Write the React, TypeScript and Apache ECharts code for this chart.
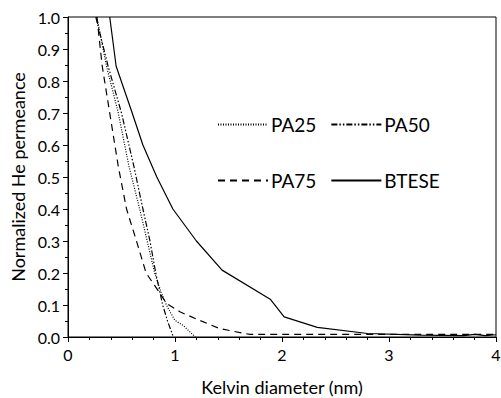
import React, { useEffect, useRef } from "react";
import * as echarts from "echarts";

const pa25X = [0.27, 0.36, 0.47, 0.57, 0.67, 0.74, 0.81, 0.87, 0.92, 0.96, 1.0, 1.08, 1.19];
const pa25Y = [1.0, 0.846, 0.7, 0.533, 0.4, 0.3, 0.2, 0.14, 0.1, 0.075, 0.052, 0.035, 0.0];

const pa50X = [0.26, 0.375, 0.5, 0.616, 0.7, 0.766, 0.82, 0.885, 0.93, 0.985];
const pa50Y = [1.0, 0.846, 0.7, 0.533, 0.4, 0.3, 0.2, 0.1, 0.05, 0.0];

const pa75X = [0.27, 0.32, 0.39, 0.47, 0.547, 0.64, 0.73, 0.86, 0.92, 1.05, 1.23, 1.42, 1.7, 2.0, 3.0, 4.0];
const pa75Y = [1.0, 0.846, 0.7, 0.533, 0.4, 0.3, 0.2, 0.136, 0.105, 0.078, 0.052, 0.026, 0.008, 0.008, 0.008, 0.008];

const btX = [0.39, 0.45, 0.6, 0.7, 0.83, 0.98, 1.2, 1.44, 1.89, 2.02, 2.33, 2.8, 3.3, 3.7, 3.8, 3.9, 4.0];
const btY = [1.0, 0.846, 0.7, 0.6, 0.5, 0.4, 0.3, 0.209, 0.118, 0.063, 0.03, 0.011, 0.006, 0.004, 0.008, 0.004, 0.007];

const seriesNames = ["PA25", "PA50", "PA75", "BTESE"];
const xTicks = [0, 1, 2, 3, 4];

const pairs = (xs: number[], ys: number[]) => xs.map((x, i) => [x, ys[i]]);

const FONT = "Lato";

export default function App() {
  const ref = useRef<HTMLDivElement>(null);
  useEffect(() => {
    if (!ref.current) return;
    const chart = echarts.init(ref.current, undefined, { renderer: "svg" });
    const mk = (name: string, data: number[][], type: any) => ({
      name,
      type: "line",
      data,
      symbol: "none",
      showSymbol: false,
      lineStyle: { color: "#000", width: 1.2, type },
      itemStyle: { color: "#000" },
    });
    const legendCommon = {
      padding: 0,
      itemWidth: 50,
      itemHeight: 12,
      itemGap: 14,
      itemStyle: { opacity: 0 },
      textStyle: { fontFamily: FONT, fontSize: 19, color: "#000", padding: [0, 0, 0, -2] },
    };
    chart.setOption({
      animation: false,
      backgroundColor: "#fff",
      grid: {
        left: 68,
        right: 5,
        top: 17,
        bottom: 61,
        show: true,
        borderColor: "#000",
        borderWidth: 1,
        containLabel: false,
        outerBoundsMode: "none",
      },
      legend: [
        { ...legendCommon, left: 217, top: 115, data: [seriesNames[0], seriesNames[1]] },
        { ...legendCommon, left: 217, top: 171, data: [seriesNames[2], seriesNames[3]] },
      ],
      xAxis: {
        type: "value",
        min: xTicks[0],
        max: xTicks[xTicks.length - 1],
        interval: 1,
        name: "Kelvin diameter (nm)",
        nameLocation: "middle",
        nameGap: 41,
        nameTextStyle: { fontFamily: FONT, fontSize: 18, color: "#000" },
        axisLine: { lineStyle: { color: "#000", width: 1 } },
        axisTick: { length: 5, lineStyle: { color: "#000" } },
        minorTick: { show: true, splitNumber: 5, length: 3, lineStyle: { color: "#000" } },
        splitLine: { show: false },
        axisLabel: { fontFamily: FONT, fontSize: 16, color: "#000", margin: 9 },
      },
      yAxis: {
        type: "value",
        min: 0,
        max: 1,
        interval: 0.1,
        name: "Normalized He permeance",
        nameLocation: "middle",
        nameGap: 40,
        nameTextStyle: { fontFamily: FONT, fontSize: 18, color: "#000" },
        axisLine: { show: true, lineStyle: { color: "#000", width: 1 } },
        axisTick: { show: true, length: 5, lineStyle: { color: "#000" } },
        minorTick: { show: true, splitNumber: 2, length: 3, lineStyle: { color: "#000" } },
        splitLine: { show: false },
        axisLabel: {
          fontFamily: FONT,
          fontSize: 16,
          color: "#000",
          margin: 8,
          formatter: (v: number) => v.toFixed(1),
        },
      },
      series: [
        mk(seriesNames[0], pairs(pa25X, pa25Y), [1, 1.5]),
        mk(seriesNames[1], pairs(pa50X, pa50Y), [6, 2, 1.5, 2, 1.5, 2]),
        mk(seriesNames[2], pairs(pa75X, pa75Y), [7, 5]),
        mk(seriesNames[3], pairs(btX, btY), "solid"),
      ],
    });
    return () => chart.dispose();
  }, []);
  return (
    <div
      ref={ref}
      style={{ position: "fixed", left: 0, top: 0, width: 501, height: 398, background: "#fff" }}
    />
  );
}
